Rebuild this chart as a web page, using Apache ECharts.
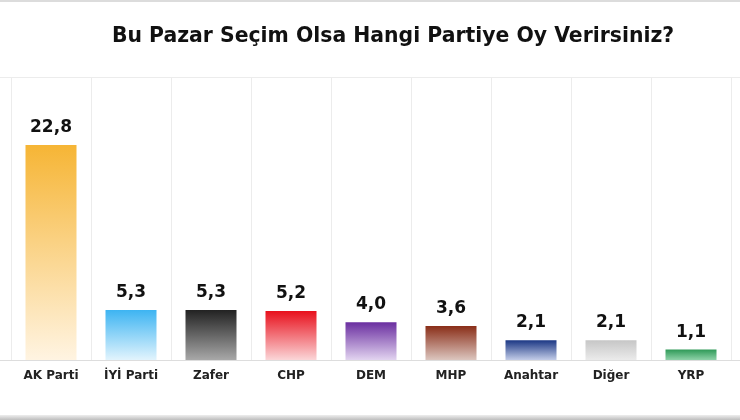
<!DOCTYPE html>
<html>
<head>
<meta charset="utf-8">
<script src="https://cdn.jsdelivr.net/npm/echarts@6/dist/echarts.min.js"></script>
<style>html,body{margin:0;padding:0;background:#fff;}#c{width:740px;height:420px;}</style>
</head>
<body>
<div id="c"></div>
<script>
var titleText = 'Bu Pazar Seçim Olsa Hangi Partiye Oy Verirsiniz?';
var categories = ['Kararsız', 'AK Parti', 'İYİ Parti', 'Zafer', 'CHP', 'DEM', 'MHP', 'Anahtar', 'Diğer', 'YRP', ''];
var values = [null, 22.8, 5.3, 5.3, 5.2, 4.0, 3.6, 2.1, 2.1, 1.1, null];
var topColors = ['#cccccc', '#f6b535', '#3db4f2', '#222222', '#e8101c', '#6a2ea0', '#8a2e18', '#1b3784', '#c6c6c6', '#2f9a58', '#cccccc'];
var bottomColors = ['#eeeeee', '#fff4e2', '#e2f4fd', '#a8a8a8', '#fbd6d8', '#e2d4f0', '#dcc6bf', '#c3cde8', '#ebebeb', '#8fd2a9', '#eeeeee'];
var yMax = 30;

var chart = echarts.init(document.getElementById('c'));
var font = 'DejaVu Sans';
var seriesData = values.map(function (v, i) {
  return {
    value: v,
    itemStyle: {
      color: new echarts.graphic.LinearGradient(0, 0, 0, 1, [
        { offset: 0, color: topColors[i] },
        { offset: 1, color: bottomColors[i] }
      ])
    }
  };
});
chart.setOption({
  animation: false,
  backgroundColor: '#ffffff',
  title: {
    text: titleText,
    left: 388,
    textAlign: 'center',
    top: 22,
    textStyle: { fontFamily: font, fontWeight: 'bold', fontSize: 20.4, color: '#111111' }
  },
  graphic: [
    { type: 'rect', shape: { x: 0, y: 0, width: 740, height: 2 }, style: { fill: '#dcdcdc' } },
    { type: 'rect', shape: { x: 0, y: 415, width: 740, height: 5 },
      style: { fill: new echarts.graphic.LinearGradient(0, 0, 0, 1, [{ offset: 0, color: '#eeeeee' }, { offset: 1, color: '#bdbdbd' }]) } }
  ],
  grid: { left: -69, width: 880, top: 77, bottom: 60, containLabel: false, outerBoundsMode: 'none' },
  xAxis: {
    type: 'category',
    data: categories,
    boundaryGap: true,
    axisTick: { show: false },
    axisLine: { show: true, lineStyle: { color: '#dddddd', width: 1 } },
    splitLine: { show: true, lineStyle: { color: '#ececec', width: 1 } },
    axisLabel: { interval: 0, margin: 10, fontFamily: font, fontWeight: 'bold', fontSize: 12, color: '#222222' }
  },
  yAxis: {
    type: 'value',
    min: 0,
    max: yMax,
    interval: yMax,
    axisLabel: { show: false },
    axisLine: { show: false },
    axisTick: { show: false },
    splitLine: { show: true, lineStyle: { color: '#ececec', width: 1 } }
  },
  series: [{
    type: 'bar',
    data: seriesData,
    barWidth: 51,
    label: {
      show: true,
      position: 'top',
      distance: 9,
      fontFamily: font,
      fontWeight: 'bold',
      fontSize: 17,
      color: '#111111',
      formatter: function (p) { return p.value == null ? '' : p.value.toFixed(1).replace('.', ','); }
    }
  }]
});
</script>
</body>
</html>
